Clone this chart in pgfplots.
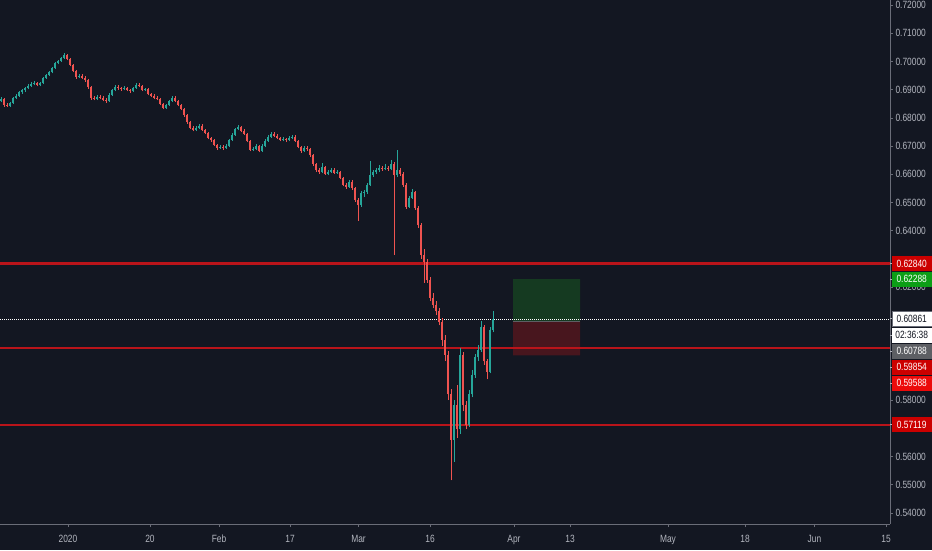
\documentclass[border=0pt]{standalone}
\usepackage{fontspec}
\setmainfont{Liberation Sans}
\newfontfamily\cond[FakeStretch=0.8]{Liberation Sans}
\usepackage{pgfplots}
\pgfplotsset{compat=1.18}
\usepackage{pgfplotstable}
\definecolor{bg}{HTML}{131722}
\definecolor{txt}{HTML}{B2B5BE}
\definecolor{upc}{HTML}{26A69A}
\definecolor{dnc}{HTML}{EF5350}
\definecolor{scl}{HTML}{6A6D78}
\definecolor{levelred}{RGB}{185,20,26}
\definecolor{tpfill}{RGB}{21,58,33}
\definecolor{slfill}{RGB}{72,22,30}
\definecolor{labred}{RGB}{204,0,0}
\definecolor{labred2}{RGB}{236,10,10}
\definecolor{labgreen}{RGB}{12,158,22}
\definecolor{labgray}{RGB}{93,95,100}

\pgfplotstableread{
x o h l c
1 0.6860 0.6874 0.6855 0.6868
4 0.6868 0.6871 0.6840 0.6846
7 0.6846 0.6852 0.6838 0.6843
10 0.6843 0.6858 0.6839 0.6853
13 0.6853 0.6875 0.6849 0.6871
16 0.6871 0.6884 0.6866 0.6878
19 0.6878 0.6897 0.6874 0.6892
22 0.6892 0.6904 0.6886 0.6899
25 0.6899 0.6911 0.6893 0.6906
28 0.6906 0.6920 0.6901 0.6914
31 0.6914 0.6926 0.6909 0.6921
34 0.6921 0.6930 0.6915 0.6924
37 0.6924 0.6929 0.6912 0.6917
40 0.6917 0.6928 0.6912 0.6924
43 0.6924 0.6946 0.6920 0.6942
46 0.6942 0.6957 0.6938 0.6952
49 0.6952 0.6968 0.6948 0.6963
52 0.6963 0.6981 0.6958 0.6977
55 0.6977 0.6999 0.6973 0.6995
58 0.6995 0.7007 0.6990 0.7002
61 0.7002 0.7017 0.6998 0.7013
64 0.7013 0.7031 0.7009 0.7023
67 0.7023 0.7028 0.7004 0.7009
70 0.7009 0.7013 0.6983 0.6988
73 0.6988 0.6992 0.6961 0.6967
76 0.6967 0.6971 0.6939 0.6945
79 0.6945 0.6956 0.6940 0.6949
82 0.6949 0.6955 0.6937 0.6942
85 0.6942 0.6947 0.6929 0.6935
88 0.6935 0.6939 0.6904 0.6910
91 0.6910 0.6914 0.6865 0.6871
94 0.6871 0.6878 0.6862 0.6868
97 0.6868 0.6881 0.6863 0.6875
100 0.6875 0.6880 0.6866 0.6871
103 0.6871 0.6876 0.6859 0.6864
106 0.6864 0.6869 0.6853 0.6860
109 0.6860 0.6887 0.6856 0.6882
112 0.6882 0.6904 0.6877 0.6899
115 0.6899 0.6916 0.6894 0.6910
118 0.6910 0.6915 0.6900 0.6906
121 0.6906 0.6911 0.6897 0.6903
124 0.6903 0.6912 0.6898 0.6906
127 0.6906 0.6911 0.6894 0.6899
130 0.6899 0.6904 0.6890 0.6896
133 0.6896 0.6911 0.6892 0.6906
136 0.6906 0.6925 0.6902 0.6917
139 0.6917 0.6922 0.6909 0.6914
142 0.6914 0.6918 0.6894 0.6899
145 0.6899 0.6907 0.6894 0.6901
148 0.6901 0.6906 0.6880 0.6885
151 0.6885 0.6890 0.6873 0.6878
154 0.6878 0.6883 0.6866 0.6871
157 0.6871 0.6876 0.6862 0.6868
160 0.6868 0.6872 0.6845 0.6850
163 0.6850 0.6854 0.6830 0.6836
166 0.6836 0.6851 0.6832 0.6846
169 0.6846 0.6865 0.6842 0.6860
172 0.6860 0.6877 0.6856 0.6871
175 0.6871 0.6876 0.6855 0.6860
178 0.6860 0.6864 0.6841 0.6846
181 0.6846 0.6850 0.6827 0.6832
184 0.6832 0.6836 0.6805 0.6811
187 0.6811 0.6815 0.6780 0.6786
190 0.6786 0.6790 0.6759 0.6765
193 0.6765 0.6770 0.6752 0.6758
196 0.6758 0.6770 0.6753 0.6765
199 0.6765 0.6778 0.6760 0.6772
202 0.6772 0.6777 0.6753 0.6758
205 0.6758 0.6762 0.6742 0.6747
208 0.6747 0.6751 0.6724 0.6729
211 0.6729 0.6734 0.6716 0.6722
214 0.6722 0.6726 0.6700 0.6705
217 0.6705 0.6709 0.6688 0.6694
220 0.6694 0.6704 0.6689 0.6698
223 0.6698 0.6703 0.6688 0.6694
226 0.6694 0.6707 0.6689 0.6701
229 0.6701 0.6727 0.6697 0.6722
232 0.6722 0.6745 0.6718 0.6740
235 0.6740 0.6766 0.6736 0.6761
238 0.6761 0.6776 0.6756 0.6768
241 0.6768 0.6773 0.6749 0.6754
244 0.6754 0.6759 0.6739 0.6744
247 0.6744 0.6748 0.6713 0.6719
250 0.6719 0.6723 0.6681 0.6687
253 0.6687 0.6696 0.6682 0.6690
256 0.6690 0.6707 0.6685 0.6701
259 0.6701 0.6705 0.6678 0.6683
262 0.6683 0.6706 0.6679 0.6701
265 0.6701 0.6724 0.6696 0.6719
268 0.6719 0.6738 0.6715 0.6733
271 0.6733 0.6750 0.6729 0.6744
274 0.6744 0.6749 0.6732 0.6737
277 0.6737 0.6742 0.6724 0.6729
280 0.6729 0.6734 0.6717 0.6722
283 0.6722 0.6731 0.6717 0.6725
286 0.6725 0.6730 0.6716 0.6722
289 0.6722 0.6735 0.6717 0.6729
292 0.6729 0.6740 0.6724 0.6733
295 0.6733 0.6738 0.6714 0.6719
298 0.6719 0.6723 0.6692 0.6698
301 0.6698 0.6702 0.6677 0.6683
304 0.6683 0.6700 0.6679 0.6694
307 0.6694 0.6699 0.6684 0.6690
310 0.6690 0.6694 0.6663 0.6669
313 0.6669 0.6673 0.6631 0.6637
316 0.6637 0.6641 0.6610 0.6616
319 0.6616 0.6621 0.6603 0.6609
322 0.6609 0.6640 0.6604 0.6627
325 0.6627 0.6631 0.6597 0.6602
328 0.6602 0.6615 0.6597 0.6609
331 0.6609 0.6622 0.6604 0.6616
334 0.6616 0.6621 0.6601 0.6606
337 0.6606 0.6615 0.6601 0.6609
340 0.6609 0.6613 0.6582 0.6588
343 0.6588 0.6592 0.6557 0.6563
346 0.6563 0.6568 0.6549 0.6556
349 0.6556 0.6580 0.6551 0.6574
352 0.6574 0.6579 0.6546 0.6552
355 0.6552 0.6556 0.6502 0.6510
358 0.6510 0.6515 0.6436 0.6492
361 0.6492 0.6540 0.6486 0.6535
364 0.6535 0.6545 0.6520 0.6538
367 0.6538 0.6570 0.6532 0.6563
370 0.6563 0.6646 0.6558 0.6598
373 0.6598 0.6616 0.6592 0.6609
376 0.6609 0.6624 0.6603 0.6616
379 0.6616 0.6632 0.6610 0.6623
382 0.6623 0.6630 0.6612 0.6620
385 0.6620 0.6637 0.6614 0.6623
388 0.6623 0.6629 0.6612 0.6620
391 0.6620 0.6652 0.6614 0.6637
394 0.6637 0.6642 0.6315 0.6598
397 0.6598 0.6687 0.6590 0.6616
400 0.6616 0.6624 0.6595 0.6602
403 0.6602 0.6608 0.6556 0.6563
406 0.6563 0.6568 0.6478 0.6485
409 0.6485 0.6524 0.6480 0.6517
412 0.6517 0.6548 0.6512 0.6538
415 0.6538 0.6542 0.6475 0.6482
418 0.6482 0.6488 0.6410 0.6421
421 0.6421 0.6428 0.6300 0.6315
424 0.6315 0.6335 0.6216 0.6290
427 0.6290 0.6300 0.6215 0.6227
430 0.6227 0.6235 0.6150 0.6163
433 0.6163 0.6180 0.6125 0.6138
436 0.6138 0.6150 0.6100 0.6114
439 0.6114 0.6125 0.6065 0.6078
442 0.6078 0.6090 0.5990 0.6014
445 0.6014 0.6030 0.5940 0.5961
448 0.5961 0.5975 0.5800 0.5820
451 0.5820 0.5840 0.5515 0.5660
454 0.5660 0.5800 0.5582 0.5784
457 0.5784 0.5855 0.5667 0.5696
460 0.5696 0.5986 0.5680 0.5961
463 0.5961 0.5970 0.5760 0.5784
466 0.5784 0.5795 0.5696 0.5713
469 0.5713 0.5835 0.5705 0.5820
472 0.5820 0.5905 0.5810 0.5890
475 0.5890 0.5965 0.5880 0.5951
478 0.5951 0.5995 0.5940 0.5979
481 0.5979 0.6082 0.5970 0.6060
484 0.6060 0.6065 0.5925 0.5937
487 0.5937 0.5945 0.5873 0.5901
490 0.5901 0.6060 0.5895 0.6050
493 0.6050 0.6117 0.6040 0.6086
}\candles

\pgfplotstableread{
x y
0 0.62840
890 0.62840
445 nan
0 0.59854
890 0.59854
445 nan
0 0.57119
890 0.57119
}\levels

\begin{document}
\begin{tikzpicture}[x=1pt,y=1pt]
\useasboundingbox (0,-26) rectangle (932,524);
\fill[bg] (0,-26) rectangle (932,524);
\begin{axis}[
  at={(0,0)}, anchor=south west,
  width=890pt, height=524pt, scale only axis,
  xmin=0, xmax=890, ymin=0.53608, ymax=0.72179,
  axis x line*=bottom, axis y line*=right,
  axis line style={draw=scl, line width=0.8pt},
  tick align=outside, major tick length=3pt,
  tick style={draw=scl, line width=0.6pt},
  xtick={68,150,219,290,358.5,430,514,570,668,745,814.5,886},
  xticklabels={2020,20,Feb,17,Mar,16,Apr,13,May,18,Jun,15},
  xticklabel style={font=\cond\fontsize{10.5}{12}\selectfont, text=txt, anchor=base, yshift=-15pt},
  ytick={0.54,0.55,0.56,0.58,0.62,0.64,0.65,0.66,0.67,0.68,0.69,0.70,0.71,0.72},
  scaled y ticks=false,
  yticklabel style={font=\cond\fontsize{10.5}{12}\selectfont, text=txt, xshift=-1pt,
    /pgf/number format/.cd, fixed, fixed zerofill, precision=5, assume math mode=true},
]
% position box
\addplot[fill=tpfill, draw=none] coordinates {(513,0.60788) (580,0.60788) (580,0.62288) (513,0.62288) (513,0.60788)};
\addplot[fill=slfill, draw=none] coordinates {(513,0.59588) (580,0.59588) (580,0.60788) (513,0.60788) (513,0.59588)};
\addplot[draw=labgray, line width=0.5pt] coordinates {(513,0.60788) (580,0.60788)};
% levels
\addplot[color=levelred, draw=levelred, line width=2.2pt, mark=none, unbounded coords=jump] table[x=x, y=y] {\levels};
\addplot[draw=white, line width=0.9pt, dash pattern=on 1pt off 1pt] coordinates {(0,0.60861) (890,0.60861)};
% wicks
\addplot[draw=upc, line width=0.6pt, mark=none, quiver={u=0, v=\thisrow{h}-\thisrow{l}},
  restrict expr to domain={\thisrow{c}-\thisrow{o}}{0:1}] table[x=x, y=l] {\candles};
\addplot[draw=dnc, line width=0.6pt, mark=none, quiver={u=0, v=\thisrow{h}-\thisrow{l}},
  restrict expr to domain={\thisrow{o}-\thisrow{c}}{0.00001:1}] table[x=x, y=l] {\candles};
% bodies
\addplot[draw=upc, line width=2.1pt, mark=none, quiver={u=0, v=\thisrow{c}-\thisrow{o}},
  restrict expr to domain={\thisrow{c}-\thisrow{o}}{0:1}] table[x=x, y=o] {\candles};
\addplot[draw=dnc, line width=2.1pt, mark=none, quiver={u=0, v=\thisrow{o}-\thisrow{c}},
  restrict expr to domain={\thisrow{o}-\thisrow{c}}{0.00001:1}] table[x=x, y=c] {\candles};
\end{axis}
% price-scale labels
\begin{scope}[every node/.style={font=\cond\fontsize{10.5}{12}\selectfont, minimum width=40pt, minimum height=15pt, inner sep=0pt, anchor=west}]
\foreach \yy in {260.5,244.9,205.6,189,173,157,141,99.5} {\draw[txt, line width=0.6pt] (890,\yy) -- (892.5,\yy);}
\node[fill=labred, text=white] at (891.5,260.5) {0.62840};
\node[fill=labgreen, text=white] at (891.5,244.9) {0.62288};
\node[fill=white, draw=scl, text=bg] at (891.5,205.6) {0.60861};
\node[fill=white, text=bg] at (891.5,189) {02:36:38};
\node[fill=labgray, text=white] at (891.5,173) {0.60788};
\node[fill=labred, text=white] at (891.5,157) {0.59854};
\node[fill=labred2, text=white] at (891.5,141) {0.59588};
\node[fill=labred, text=white] at (891.5,99.5) {0.57119};
\end{scope}
\end{tikzpicture}
\end{document}
